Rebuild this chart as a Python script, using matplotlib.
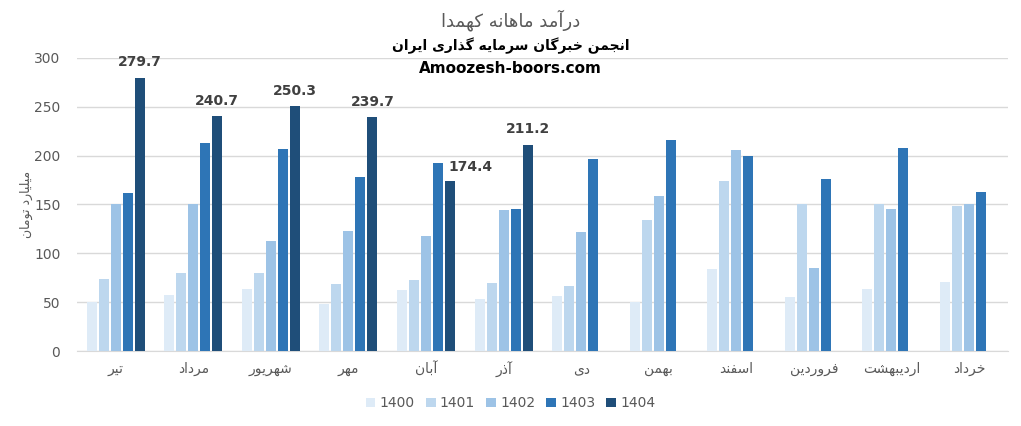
import numpy as np
import matplotlib
matplotlib.use("Agg")
import matplotlib.pyplot as plt

# presentation forms: isolated, final, initial, medial
FORMS = {
    "ا": ("\uFE8D", "\uFE8E", None, None),
    "آ": ("\uFE81", "\uFE82", None, None),
    "ب": ("\uFE8F", "\uFE90", "\uFE91", "\uFE92"),
    "ت": ("\uFE95", "\uFE96", "\uFE97", "\uFE98"),
    "ج": ("\uFE9D", "\uFE9E", "\uFE9F", "\uFEA0"),
    "خ": ("\uFEA5", "\uFEA6", "\uFEA7", "\uFEA8"),
    "د": ("\uFEA9", "\uFEAA", None, None),
    "ذ": ("\uFEAB", "\uFEAC", None, None),
    "ر": ("\uFEAD", "\uFEAE", None, None),
    "س": ("\uFEB1", "\uFEB2", "\uFEB3", "\uFEB4"),
    "ش": ("\uFEB5", "\uFEB6", "\uFEB7", "\uFEB8"),
    "ف": ("\uFED1", "\uFED2", "\uFED3", "\uFED4"),
    "ل": ("\uFEDD", "\uFEDE", "\uFEDF", "\uFEE0"),
    "م": ("\uFEE1", "\uFEE2", "\uFEE3", "\uFEE4"),
    "ن": ("\uFEE5", "\uFEE6", "\uFEE7", "\uFEE8"),
    "ه": ("\uFEE9", "\uFEEA", "\uFEEB", "\uFEEC"),
    "و": ("\uFEED", "\uFEEE", None, None),
    "ی": ("\uFBFC", "\uFBFD", "\uFBFE", "\uFBFF"),
    "ک": ("\uFB8E", "\uFB8F", "\uFB90", "\uFB91"),
    "گ": ("\uFB92", "\uFB93", "\uFB94", "\uFB95"),
}


def fa(text):
    out = []
    for i, ch in enumerate(text):
        if ch not in FORMS:
            out.append(ch)
            continue
        iso, fin, ini, med = FORMS[ch]
        prev = text[i - 1] if i > 0 else ""
        nxt = text[i + 1] if i + 1 < len(text) else ""
        jp = prev in FORMS and FORMS[prev][2] is not None
        jn = nxt in FORMS and ini is not None
        if jp and jn:
            out.append(med)
        elif jp:
            out.append(fin)
        elif jn:
            out.append(ini)
        else:
            out.append(iso)
    return "".join(reversed(out))


months = ["تیر", "مرداد", "شهریور", "مهر", "آبان", "آذر", "دی", "بهمن",
          "اسفند", "فروردین", "اردیبهشت", "خرداد"]
years = ["1400", "1401", "1402", "1403", "1404"]

v1400 = [50, 57, 63, 48, 62, 53, 56, 50, 84, 55, 63, 71]
v1401 = [74, 80, 80, 69, 73, 70, 67, 134, 174, 151, 150, 148]
v1402 = [151, 150, 113, 123, 118, 144, 122, 159, 206, 85, 145, 150]
v1403 = [162, 213, 207, 178, 192, 145, 197, 216, 200, 176, 208, 163]
v1404 = [279.7, 240.7, 250.3, 239.7, 174.4, 211.2]

series = [v1400, v1401, v1402, v1403, v1404]
colors = ["#deebf7", "#bdd7ee", "#9dc3e6", "#2e75b6", "#1f4e79"]

fig = plt.figure(figsize=(10.21, 4.26), dpi=100)
ax = fig.add_axes([0.0754, 0.176, 0.9116, 0.688])

slot = 12 / 77.6
bw = 10 / 77.6
for k, vals in enumerate(series):
    x = np.arange(len(vals)) + (k - 2) * slot
    bars = ax.bar(x, vals, width=bw, color=colors[k], label=years[k], zorder=3)
    if k == 4:
        for i, (b, v) in enumerate(zip(bars, vals)):
            cx = b.get_x() + b.get_width() / 2
            if v < v1403[i]:
                # label pushed right of the bar, like Excel does
                ax.annotate(f"{v:.1f}", (cx, v), xytext=(-1, 9.5),
                            textcoords="offset points", ha="left",
                            va="center", fontsize=10, fontweight="bold",
                            color="#404040")
            else:
                ax.annotate(f"{v:.1f}", (cx, v), xytext=(0, 6),
                            textcoords="offset points", ha="center",
                            va="bottom", fontsize=10, fontweight="bold",
                            color="#404040")

ax.set_xlim(-0.5, 11.5)
ax.set_ylim(0, 300)
ax.set_yticks(range(0, 301, 50))
ax.set_xticks(range(12))
ax.set_xticklabels([fa(m) for m in months], fontsize=9, color="#595959")
ax.grid(axis="y", color="#d9d9d9", linewidth=1, zorder=0)
for s in ["top", "right", "left"]:
    ax.spines[s].set_visible(False)
ax.spines["bottom"].set_color("#d9d9d9")
ax.tick_params(axis="both", length=0, colors="#595959", labelsize=10)
ax.tick_params(axis="x", pad=8)
ax.tick_params(axis="y", pad=12)

ax.set_ylabel(fa("میلیارد تومان"), fontsize=9, color="#595959", labelpad=1)

fig.text(0.5, 0.953, fa("درآمد ماهانه کهمدا"), ha="center", va="center",
         fontsize=13, color="#595959")
fig.text(0.5, 0.893, fa("انجمن خبرگان سرمایه گذاری ایران"), ha="center",
         va="center", fontsize=10, fontweight="bold", color="black")
fig.text(0.5, 0.84, "Amoozesh-boors.com", ha="center", va="center",
         fontsize=11, fontweight="bold", color="black")

fig.legend(loc="center", bbox_to_anchor=(0.5, 0.053), ncol=5, frameon=False,
           fontsize=10, handlelength=0.7, handleheight=0.7, handletextpad=0.3,
           columnspacing=0.8, labelcolor="#595959")

fig.savefig("out.png", dpi=100)
